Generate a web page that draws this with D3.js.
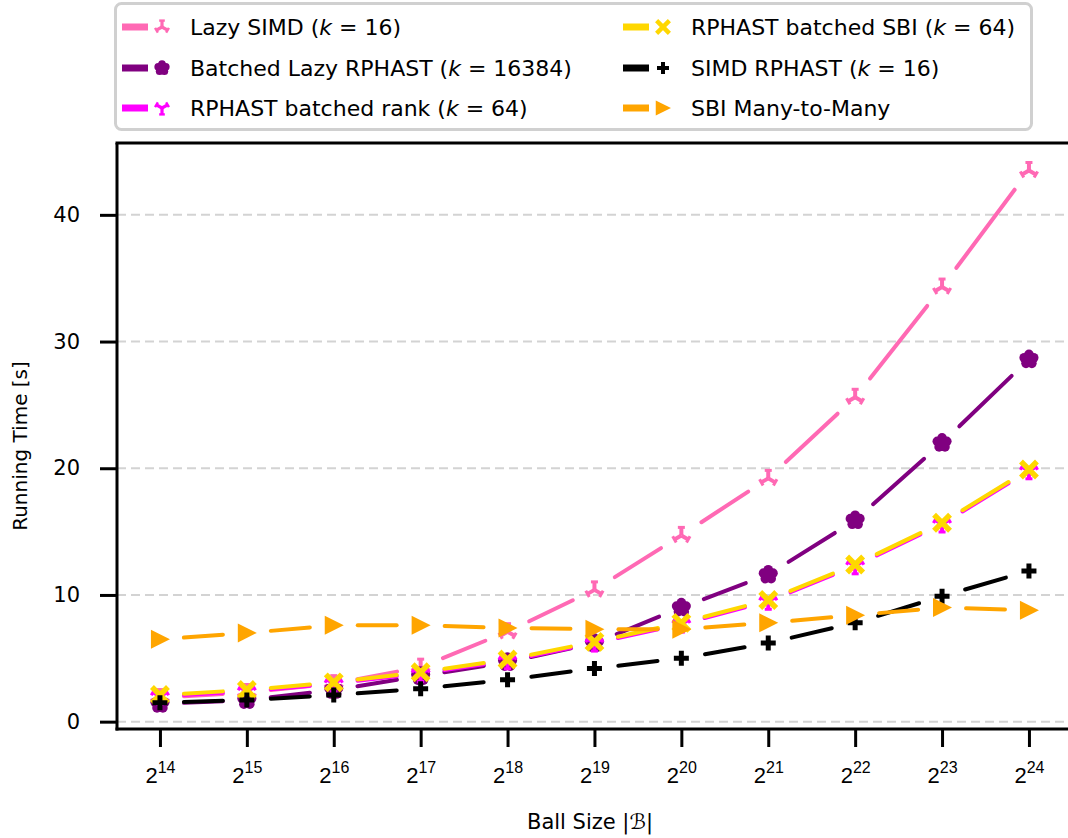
<!DOCTYPE html>
<html>
<head>
<meta charset="utf-8">
<script src="https://cdn.jsdelivr.net/npm/d3@7"></script>
<style>
	body { margin: 0; background: #fff; }
	svg { display: block; font-family: "DejaVu Sans", sans-serif; }
</style>
</head>
<body>
<div id="chart"></div>
<script>
// ball size exponents (2^k)
const exponents = [ 14, 15, 16, 17, 18, 19, 20, 21, 22, 23, 24 ];
const yTicks = [ 0, 10, 20, 30, 40 ];

// running times in seconds
const lazySimd = [ 1.9, 2.3, 3.0, 4.3, 7.1, 10.4, 14.7, 19.2, 25.6, 34.3, 43.5 ];
const batchedLazy = [ 1.4, 1.7, 2.5, 3.6, 4.7, 6.2, 9.0, 11.6, 15.9, 22.0, 28.6 ];
const batchedRank = [ 2.0, 2.4, 3.0, 3.8, 4.8, 6.2, 7.7, 9.5, 12.3, 15.6, 19.8 ];
const batchedSbi = [ 2.1, 2.5, 3.1, 3.9, 4.9, 6.3, 7.8, 9.6, 12.4, 15.7, 19.9 ];
const simdRphast = [ 1.5, 1.7, 2.1, 2.6, 3.3, 4.2, 5.0, 6.2, 7.8, 9.9, 11.9 ];
const sbiM2M = [ 6.5, 7.0, 7.6, 7.6, 7.4, 7.3, 7.3, 7.8, 8.4, 9.0, 8.8 ];

const seriesNames = [
	[ 'Lazy SIMD (', '16', ')' ],
	[ 'Batched Lazy RPHAST (', '16384', ')' ],
	[ 'RPHAST batched rank (', '64', ')' ],
	[ 'RPHAST batched SBI (', '64', ')' ],
	[ 'SIMD RPHAST (', '16', ')' ],
	[ 'SBI Many-to-Many' ]
];
const seriesColors = [ '#ff69b4', '#800080', '#ff00ff', '#ffd700', '#000000', '#ffa500' ];
const seriesMarkers = [ 'triUp', 'flower', 'triDown', 'x', 'plus', 'triRight' ];
const seriesValues = [ lazySimd, batchedLazy, batchedRank, batchedSbi, simdRphast, sbiM2M ];

const width = 1068, height = 838;
const svg = d3.select( '#chart' ).append( 'svg' )
	.attr( 'width', width ).attr( 'height', height );

const x = d3.scaleLinear().domain( [ 13.5, 24.5 ] ).range( [ 116.5, 1072.4 ] );
const y = d3.scaleLinear().domain( [ -0.58, 45.67 ] ).range( [ 729, 143 ] );

// grid
svg.append( 'g' ).selectAll( 'line' ).data( yTicks ).join( 'line' )
	.attr( 'x1', 117 ).attr( 'x2', width )
	.attr( 'y1', d => y( d ) ).attr( 'y2', d => y( d ) )
	.attr( 'stroke', '#d3d3d3' ).attr( 'stroke-width', 2 )
	.attr( 'stroke-dasharray', '9,5' );

// axes
const xAxis = svg.append( 'g' ).attr( 'transform', 'translate(0,729)' )
	.call( d3.axisBottom( x ).tickValues( exponents ).tickSize( 18 ).tickFormat( '' ) );
xAxis.select( '.domain' ).remove();
xAxis.selectAll( '.tick line' ).attr( 'stroke', '#000' ).attr( 'stroke-width', 3 );
xAxis.selectAll( '.tick' ).append( 'text' )
	.attr( 'y', 54 ).attr( 'fill', '#000' ).attr( 'text-anchor', 'middle' )
	.each( function( d ){
		let t = d3.select( this );
		t.append( 'tspan' ).attr( 'font-size', 22 ).text( '2' );
		t.append( 'tspan' ).attr( 'font-size', 16 ).attr( 'dy', -10 ).text( d );
	} );

const yAxis = svg.append( 'g' ).attr( 'transform', 'translate(117,0)' )
	.call( d3.axisLeft( y ).tickValues( yTicks ).tickSize( 17 ).tickPadding( 20 ) );
yAxis.select( '.domain' ).remove();
yAxis.selectAll( '.tick line' ).attr( 'stroke', '#000' ).attr( 'stroke-width', 3 );
yAxis.selectAll( '.tick text' ).attr( 'font-size', 21 ).attr( 'fill', '#000' )
	.attr( 'font-family', '"DejaVu Sans", sans-serif' );

// spines
let spines = svg.append( 'g' ).attr( 'stroke', '#000' ).attr( 'stroke-width', 3 );
spines.append( 'line' ).attr( 'x1', 117 ).attr( 'x2', 117 ).attr( 'y1', 143 ).attr( 'y2', 730.5 );
spines.append( 'line' ).attr( 'x1', 115.5 ).attr( 'x2', width ).attr( 'y1', 143 ).attr( 'y2', 143 );
spines.append( 'line' ).attr( 'x1', 115.5 ).attr( 'x2', width ).attr( 'y1', 729 ).attr( 'y2', 729 );

// axis labels
svg.append( 'text' ).attr( 'x', 590 ).attr( 'y', 829 ).attr( 'text-anchor', 'middle' )
	.attr( 'font-size', 21 ).text( 'Ball Size |ℬ|' );
svg.append( 'text' ).attr( 'transform', 'translate(27,446) rotate(-90)' )
	.attr( 'text-anchor', 'middle' ).attr( 'font-size', 20 ).text( 'Running Time [s]' );

// marker shapes
function drawMarker( g, type, color, s ){
	s = s || 1;
	if( type === 'triUp' || type === 'triDown' ){
		let r = 8 * s, sign = type === 'triUp' ? -1 : 1,
			arms = [ [ 0, sign * r ], [ -0.866 * r, -sign * 0.5 * r ], [ 0.866 * r, -sign * 0.5 * r ] ];
		arms.forEach( p => {
			g.append( 'line' ).attr( 'x1', 0 ).attr( 'y1', 0 ).attr( 'x2', p[ 0 ] ).attr( 'y2', p[ 1 ] )
				.attr( 'stroke', color ).attr( 'stroke-width', 4 * s );
			// small caps at arm ends
			let ang = Math.atan2( p[ 1 ], p[ 0 ] ) * 180 / Math.PI;
			g.append( 'rect' ).attr( 'x', -1.5 * s ).attr( 'y', -3.5 * s ).attr( 'width', 3 * s ).attr( 'height', 7 * s )
				.attr( 'fill', color )
				.attr( 'transform', `translate(${ p[ 0 ] },${ p[ 1 ] }) rotate(${ ang })` );
		} );
	} else if( type === 'flower' ){
		for( let i = 0; i < 5; i++ ){
			let a = -Math.PI / 2 + i * 2 * Math.PI / 5;
			g.append( 'circle' ).attr( 'cx', Math.cos( a ) * 5 * s ).attr( 'cy', Math.sin( a ) * 5 * s )
				.attr( 'r', 4.8 * s ).attr( 'fill', color );
		}
		g.append( 'circle' ).attr( 'r', 6 * s ).attr( 'fill', color );
	} else if( type === 'x' ){
		let r = 8 * s;
		g.append( 'path' ).attr( 'd', `M${ -r },${ -r }L${ r },${ r }M${ -r },${ r }L${ r },${ -r }` )
			.attr( 'stroke', color ).attr( 'stroke-width', 5.5 * s );
	} else if( type === 'plus' ){
		let r = 7.5 * s;
		g.append( 'path' ).attr( 'd', `M${ -r },0H${ r }M0,${ -r }V${ r }` )
			.attr( 'stroke', color ).attr( 'stroke-width', 5 * s );
	} else if( type === 'triRight' ){
		let r = 9.5 * s;
		g.append( 'path' ).attr( 'd', `M${ r * 1.05 },0L${ -r * 0.95 },${ -r }L${ -r * 0.95 },${ r }Z` )
			.attr( 'fill', color );
	}
}

// series
const gap = 24;
seriesValues.forEach( ( vals, si ) => {
	let g = svg.append( 'g' ),
		color = seriesColors[ si ],
		pts = vals.map( ( v, i ) => [ x( exponents[ i ] ), y( v ) ] ),
		segs = d3.pairs( pts ).map( ( [ a, b ] ) => {
			let dx = b[ 0 ] - a[ 0 ], dy = b[ 1 ] - a[ 1 ], len = Math.hypot( dx, dy );
			return [ a[ 0 ] + dx / len * gap, a[ 1 ] + dy / len * gap, b[ 0 ] - dx / len * gap, b[ 1 ] - dy / len * gap ];
		} );
	g.selectAll( 'line' ).data( segs ).join( 'line' )
		.attr( 'x1', d => d[ 0 ] ).attr( 'y1', d => d[ 1 ] )
		.attr( 'x2', d => d[ 2 ] ).attr( 'y2', d => d[ 3 ] )
		.attr( 'stroke', color ).attr( 'stroke-width', 4 ).attr( 'stroke-linecap', 'round' );
	pts.forEach( p => {
		drawMarker( g.append( 'g' ).attr( 'transform', `translate(${ p[ 0 ] },${ p[ 1 ] })` ),
			seriesMarkers[ si ], color );
	} );
} );

// legend
const legend = svg.append( 'g' );
legend.append( 'rect' ).attr( 'x', 115.5 ).attr( 'y', 3.5 ).attr( 'width', 916 ).attr( 'height', 126 )
	.attr( 'rx', 6 ).attr( 'fill', '#fff' ).attr( 'stroke', '#d0d0d0' ).attr( 'stroke-width', 3 );
const rowY = [ 27, 68, 108 ], colX = [ 122, 623 ];
seriesNames.forEach( ( name, i ) => {
	let cx = colX[ Math.floor( i / 3 ) ], cy = rowY[ i % 3 ],
		item = legend.append( 'g' ).attr( 'transform', `translate(${ cx },${ cy })` );
	item.append( 'line' ).attr( 'x1', 0 ).attr( 'x2', 26 ).attr( 'y1', 0 ).attr( 'y2', 0 )
		.attr( 'stroke', seriesColors[ i ] ).attr( 'stroke-width', 7 );
	drawMarker( item.append( 'g' ).attr( 'transform', 'translate(40,0)' ), seriesMarkers[ i ], seriesColors[ i ], 0.8 );
	let t = item.append( 'text' ).attr( 'x', 68 ).attr( 'y', 8 ).attr( 'font-size', 22 );
	t.append( 'tspan' ).text( name[ 0 ] );
	if( name.length > 1 ){
		t.append( 'tspan' ).attr( 'font-style', 'italic' ).text( 'k' );
		t.append( 'tspan' ).text( ' = ' + name[ 1 ] + name[ 2 ] );
	}
} );
</script>
</body>
</html>
